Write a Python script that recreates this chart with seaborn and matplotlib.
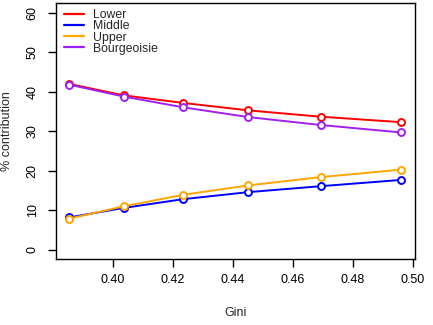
import pandas as pd
import seaborn as sns
import matplotlib.pyplot as plt
from matplotlib.lines import Line2D

# values
gini = [0.3855, 0.4037, 0.4233, 0.4452, 0.4693, 0.4963]
lower = [42.0, 39.1, 37.2, 35.3, 33.7, 32.3]
middle = [8.2, 10.6, 12.8, 14.6, 16.1, 17.7]
upper = [7.9, 11.0, 13.9, 16.3, 18.4, 20.3]
bourgeoisie = [41.8, 38.8, 36.1, 33.6, 31.6, 29.7]

classes = ["Lower", "Middle", "Upper", "Bourgeoisie"]
colors = ["#FF0000", "#0000FF", "#FFA500", "#A020F0"]

df = pd.DataFrame({
    "Gini": gini * 4,
    "pct": lower + middle + upper + bourgeoisie,
    "class": [c for c in classes for _ in gini],
})

sns.set_style("ticks")
plt.rcParams["font.family"] = ["Liberation Sans", "DejaVu Sans"]

fig = plt.figure(figsize=(4.33, 3.25), dpi=100)
ax = fig.add_axes([0.1293, 0.2022, 0.8291, 0.7876])

sns.lineplot(data=df, x="Gini", y="pct", hue="class", hue_order=classes,
             palette=colors, marker="o", linewidth=1.4, markersize=5,
             legend=False, ax=ax)
# open circles like R's type="b"
for ln in ax.lines:
    c = ln.get_color()
    ln.set_markerfacecolor("white")
    ln.set_markeredgecolor(c)
    ln.set_markeredgewidth(1.4)

ax.set_xlim(0.3811, 0.5008)
ax.set_ylim(-2.4, 62.4)
ax.set_xticks([0.40, 0.42, 0.44, 0.46, 0.48, 0.50])
ax.set_xticklabels(["0.40", "0.42", "0.44", "0.46", "0.48", "0.50"])
ax.set_yticks([0, 10, 20, 30, 40, 50, 60])
ax.tick_params(axis="both", direction="out", length=5.5, width=1,
               labelsize=9, color="black", labelcolor="black")
ax.tick_params(axis="x", pad=5)
ax.tick_params(axis="y", pad=7)
plt.setp(ax.get_yticklabels(), rotation=90, va="center")
for s in ax.spines.values():
    s.set_visible(True)
    s.set_linewidth(1)
    s.set_color("black")

ax.set_xlabel("Gini", fontsize=9, labelpad=15)
ax.set_ylabel("% contribution", fontsize=9, labelpad=10)

handles = [Line2D([], [], color=c, lw=1.6) for c in colors]
ax.legend(handles, classes, loc="upper left", frameon=False, fontsize=8.8,
          handlelength=1.6, handletextpad=0.7, labelspacing=-0.06,
          borderaxespad=0.0, bbox_to_anchor=(0.01, 0.997))

fig.savefig("out.png", dpi=100)
